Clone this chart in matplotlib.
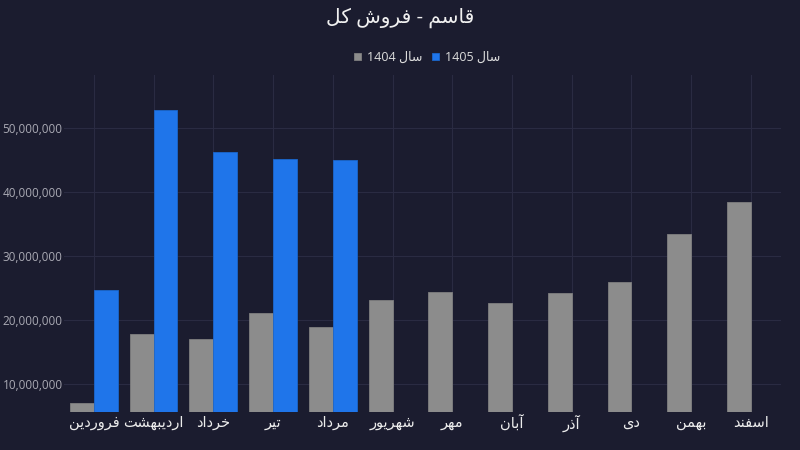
import numpy as np
import matplotlib
matplotlib.use('Agg')
import matplotlib.pyplot as plt
from matplotlib.ticker import FuncFormatter

#Datos:
meses = ['فروردین', 'اردیبهشت', 'خرداد', 'تیر', 'مرداد', 'شهریور',
         'مهر', 'آبان', 'آذر', 'دی', 'بهمن', 'اسفند']
ventas_1404 = [7.0e6, 17.8e6, 17.0e6, 21.1e6, 18.9e6, 23.1e6,
               24.3e6, 22.7e6, 24.2e6, 25.9e6, 33.4e6, 38.5e6]
ventas_1405 = [24.6e6, 52.9e6, 46.3e6, 45.2e6, 45.0e6]
serie_1404 = 'سال 1404'
serie_1405 = 'سال 1405'
titulo = 'قاسم - فروش کل'

#Formas de presentacion arabes (aislada, final, inicial, media):
FORMAS = {
    'ا': ('\uFE8D', '\uFE8E', None, None),
    'آ': ('\uFE81', '\uFE82', None, None),
    'ب': ('\uFE8F', '\uFE90', '\uFE91', '\uFE92'),
    'ت': ('\uFE95', '\uFE96', '\uFE97', '\uFE98'),
    'خ': ('\uFEA5', '\uFEA6', '\uFEA7', '\uFEA8'),
    'د': ('\uFEA9', '\uFEAA', None, None),
    'ذ': ('\uFEAB', '\uFEAC', None, None),
    'ر': ('\uFEAD', '\uFEAE', None, None),
    'س': ('\uFEB1', '\uFEB2', '\uFEB3', '\uFEB4'),
    'ش': ('\uFEB5', '\uFEB6', '\uFEB7', '\uFEB8'),
    'ف': ('\uFED1', '\uFED2', '\uFED3', '\uFED4'),
    'ق': ('\uFED5', '\uFED6', '\uFED7', '\uFED8'),
    'ل': ('\uFEDD', '\uFEDE', '\uFEDF', '\uFEE0'),
    'م': ('\uFEE1', '\uFEE2', '\uFEE3', '\uFEE4'),
    'ن': ('\uFEE5', '\uFEE6', '\uFEE7', '\uFEE8'),
    'ه': ('\uFEE9', '\uFEEA', '\uFEEB', '\uFEEC'),
    'و': ('\uFEED', '\uFEEE', None, None),
    'ک': ('\uFB8E', '\uFB8F', '\uFB90', '\uFB91'),
    'ی': ('\uFBFC', '\uFBFD', '\uFBFE', '\uFBFF'),
}

def rtl(texto):
    #forma las letras y las pone en orden visual
    res = []
    for i, c in enumerate(texto):
        if c not in FORMAS:
            res.append(c)
            continue
        prev = texto[i-1] if i > 0 else ''
        nxt = texto[i+1] if i < len(texto)-1 else ''
        une_prev = prev in FORMAS and FORMAS[prev][2] is not None
        une_sig = nxt in FORMAS and FORMAS[c][2] is not None
        f = FORMAS[c]
        if une_prev and une_sig:
            res.append(f[3])
        elif une_prev:
            res.append(f[1])
        elif une_sig:
            res.append(f[2])
        else:
            res.append(f[0])
    s = ''.join(res)
    #trozos de digitos mantienen su orden
    trozos = []
    actual = ''
    for c in s:
        if actual and (c.isdigit() != actual[-1].isdigit()):
            trozos.append(actual)
            actual = ''
        actual += c
    trozos.append(actual)
    trozos = [t if t[0].isdigit() else t[::-1] for t in trozos]
    return ''.join(trozos[::-1])

#Estilo:
fondo = '#1b1c2f'
plt.rcParams['font.family'] = ['Open Sans', 'DejaVu Sans']

fig = plt.figure(figsize=(8, 4.5), dpi=100, facecolor=fondo)
ax = fig.add_axes([0.08, 0.085, 0.896, 0.748])
ax.set_facecolor(fondo)

x = np.arange(len(meses))
ancho = 0.4
ax.bar(x - ancho/2, ventas_1404, ancho, color='#8c8c8c', edgecolor='#7f7f7f',
       linewidth=0.6, label=rtl(serie_1404), zorder=3)
ax.bar(x[:len(ventas_1405)] + ancho/2, ventas_1405, ancho, color='#1f75ea',
       edgecolor='#1a66cc', linewidth=0.6, label=rtl(serie_1405), zorder=3)

ax.set_xlim(-0.5, len(meses) - 0.5)
ax.set_ylim(5.6e6, 58.3e6)
ax.set_yticks([10e6, 20e6, 30e6, 40e6, 50e6])
ax.yaxis.set_major_formatter(FuncFormatter(lambda v, p: f'{v:,.0f}'))
ax.set_xticks(x)
ax.set_xticklabels([rtl(m) for m in meses], fontsize=10.5, color='#ececec')
ax.tick_params(axis='y', colors='#a9a9b3', labelsize=8.5, length=0, pad=1)
ax.tick_params(axis='x', length=0, pad=3)
ax.grid(True, color='#2a2b42', linewidth=0.8, zorder=0)
for s in ax.spines.values():
    s.set_visible(False)

fig.text(0.5, 0.96, rtl(titulo), ha='center', va='center', fontsize=14.5, color='#f0f0f0')
fig.legend(loc='center', bbox_to_anchor=(0.534, 0.872), ncol=2, frameon=False,
           fontsize=9, labelcolor='#dcdcdc', handlelength=0.5, handleheight=0.5,
           handletextpad=0.5, columnspacing=0.8)

plt.savefig('out.png', facecolor=fondo)
